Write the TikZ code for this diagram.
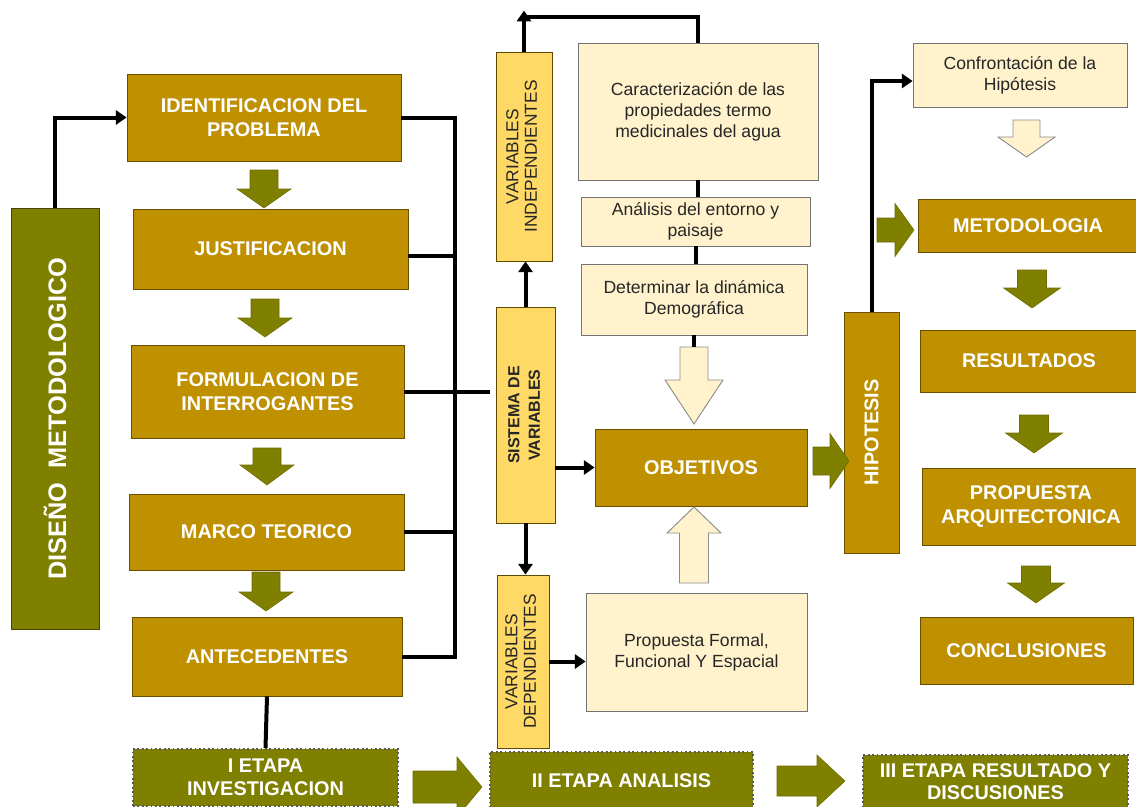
\documentclass[tikz,border=0pt]{standalone}
\usepackage{fontspec}
\setmainfont{Liberation Sans}
\usepackage{graphicx}
\usetikzlibrary{arrows.meta}
\definecolor{goldc}{HTML}{BF9000}
\definecolor{olivec}{HTML}{7F7F00}
\definecolor{lgoldc}{HTML}{FFD966}
\definecolor{creamc}{HTML}{FFF2CC}
\definecolor{txtc}{HTML}{262626}
% box by pixel corners: name, x1, y1, x2, y2, style, text
\newcommand{\bx}[7]{%
  \pgfmathsetmacro\bxw{(#4-#2)*0.75}%
  \pgfmathsetmacro\bxh{(#5-#3)*0.75}%
  \node[#6, minimum width=\bxw pt, minimum height=\bxh pt, inner sep=0pt]
    (#1) at ({(#2+#4)/2},{(#3+#5)/2}) {#7};}
% vertical block arrow: cx, shaft half width, head half width, ybase, yhead, ytip, style
\newcommand{\FatV}[7]{%
  \path[#7] ({#1-#2},#4) -- ({#1+#2},#4) -- ({#1+#2},#5) -- ({#1+#3},#5)
    -- (#1,#6) -- ({#1-#3},#5) -- ({#1-#2},#5) -- cycle;}
% horizontal block arrow: cy, shaft half width, head half width, xbase, xhead, xtip, style
\newcommand{\FatH}[7]{%
  \path[#7] (#4,{#1-#2}) -- (#4,{#1+#2}) -- (#5,{#1+#2}) -- (#5,{#1+#3})
    -- (#6,#1) -- (#5,{#1-#3}) -- (#5,{#1-#2}) -- cycle;}
\begin{document}
\begin{tikzpicture}[x=0.75pt,y=-0.75pt,
  goldbox/.style={fill=goldc, draw=goldc!55!black, line width=0.6pt, text=white,
    font=\bfseries\fontsize{14.9}{17.5}\selectfont, align=center},
  olivebox/.style={fill=olivec, draw=olivec!55!black, line width=0.6pt, text=white,
    font=\bfseries, align=center},
  etapa/.style={fill=olivec, draw=black!65, dotted, line width=1.3pt, text=white,
    font=\bfseries\fontsize{14.9}{17}\selectfont, align=center},
  lgoldbox/.style={fill=lgoldc, draw=goldc!50!black, line width=0.6pt, text=txtc,
    font=\fontsize{13}{13.8}\selectfont, align=center},
  creambox/.style={fill=creamc, draw=black!55, line width=0.6pt, text=txtc,
    font=\fontsize{13.2}{15.7}\selectfont, align=center},
  conn/.style={line width=3pt, black},
  arr/.style={conn, -{Triangle[length=8pt,width=10.5pt]}},
  oliveblk/.style={fill=olivec, draw=olivec!85!black, line width=0.4pt},
  hollow/.style={fill=creamc, draw=black!45, line width=0.7pt}]
\useasboundingbox (0,0) rectangle (1136,807);
\clip (0,0) rectangle (1136,807);

% ---------- left column ----------
\bx{dis}{11}{208}{99}{629}{olivebox}{\rotatebox{90}{\fontsize{19}{22}\selectfont DISEÑO\ \ METODOLOGICO}}
\bx{ident}{127}{74}{401}{161}{goldbox}{IDENTIFICACION DEL\\PROBLEMA}
\bx{just}{133}{209}{408}{289}{goldbox}{JUSTIFICACION}
\bx{form}{131}{345}{404}{438}{goldbox}{FORMULACION DE\\INTERROGANTES}
\bx{marco}{129}{494}{404}{570}{goldbox}{MARCO TEORICO}
\bx{antec}{132}{617}{402}{696}{goldbox}{ANTECEDENTES}
\bx{et1}{133}{749}{398}{806}{etapa}{I ETAPA\\INVESTIGACION}

\FatV{264}{14}{27}{170}{189}{208}{oliveblk}
\FatV{265}{14}{27}{299}{318}{337}{oliveblk}
\FatV{267}{14}{27}{448}{465}{485}{oliveblk}
\FatV{266}{14}{27}{572}{592}{611}{oliveblk}

% ---------- middle column ----------
\bx{varind}{496}{52}{552}{261}{lgoldbox}{\rotatebox{90}{\begin{tabular}{@{}c@{}}VARIABLES\\INDEPENDIENTES\end{tabular}}}
\bx{sis}{496}{307}{555}{523}{lgoldbox}{\rotatebox{90}{\bfseries\fontsize{12}{15.5}\selectfont\begin{tabular}{@{}c@{}}SISTEMA DE\\VARIABLES\end{tabular}}}
\bx{vardep}{497}{575}{549}{748}{lgoldbox}{\rotatebox{90}{\begin{tabular}{@{}c@{}}VARIABLES\\DEPENDIENTES\end{tabular}}}
\bx{car}{578}{43}{818}{180}{creambox}{Caracterización de las\\propiedades termo\\medicinales del agua}
\bx{ana}{581}{197}{810}{246}{creambox}{Análisis del entorno y\\paisaje}
\bx{det}{581}{264}{807}{335}{creambox}{Determinar la dinámica\\Demográfica}
\bx{obj}{595}{429}{807}{506}{goldbox}{OBJETIVOS}
\bx{prop}{586}{593}{807}{711}{creambox}{Propuesta Formal,\\Funcional Y Espacial}
\bx{et2}{490}{752}{753}{810}{etapa}{II ETAPA ANALISIS}

\FatV{694}{14}{29}{347}{380}{424}{hollow}
\FatV{694}{14.5}{27}{583}{533}{507}{hollow}

% ---------- right column ----------
\bx{hip}{844}{312}{899}{553}{goldbox}{\rotatebox{90}{HIPOTESIS}}
\bx{conf}{913}{43}{1127}{107}{creambox}{Confrontación de la\\Hipótesis}
\bx{met}{918}{199}{1138}{252}{goldbox}{METODOLOGIA}
\bx{res}{920}{330}{1138}{392}{goldbox}{RESULTADOS}
\bx{parq}{922}{468}{1140}{545}{goldbox}{PROPUESTA\\ARQUITECTONICA}
\bx{conc}{920}{617}{1133}{684}{goldbox}{CONCLUSIONES}
\bx{et3}{863}{755}{1128}{808}{etapa}{III ETAPA RESULTADO Y\\DISCUSIONES}

\FatV{1026.5}{13.5}{28.5}{120}{137}{157}{hollow}
\FatV{1032}{14.5}{28.5}{270}{288}{308}{oliveblk}
\FatV{1034}{14.5}{28.5}{415}{433}{453}{oliveblk}
\FatV{1036}{14.5}{28.5}{566}{583}{603}{oliveblk}

% horizontal block arrows
\FatH{461}{14}{27.5}{813}{830}{849}{oliveblk}
\FatH{230}{12}{26.5}{877}{895}{914}{oliveblk}
\FatH{787}{16}{30}{413}{457}{482}{oliveblk}
\FatH{781}{15}{26}{777}{817}{845}{oliveblk}

% ---------- connectors ----------
\coordinate (bus) at (455,0);
\coordinate (topc) at (526,17);
\draw[arr] (dis.north) |- (ident.west);
\draw[conn] (ident.east) -| (antec.east -| bus) -- (antec.east);
\draw[conn] ([yshift=-5.25pt]just.east) -- ([yshift=-5.25pt]just.east -| bus);
\draw[conn] (form.east) -- ([xshift=-4pt]form.east -| sis.west);
\draw[conn] (marco.east) -- (marco.east -| bus);
\draw[conn] (antec.south) -- (et1.north);

\draw[arr] (sis.north) -- (sis.north |- varind.south);
\draw[conn] (car.north) |- (varind.north |- topc);
\draw[arr] (varind.north) -- ++(0,-41);
\draw[arr] (sis.east |- obj.west) -- (obj.west);
\draw[arr] (sis.south) -- (sis.south |- vardep.north);
\draw[arr] (vardep.east) -- (vardep.east -| prop.west);

\draw[conn] (car.south) -- (car.south |- ana.north);
\draw[conn] (ana.south) -- (ana.south |- det.north);
\draw[conn] (det.south) -- ++(0,12);

\draw[arr] (hip.north) |- ([yshift=-4.5pt]conf.west);
\end{tikzpicture}
\end{document}
